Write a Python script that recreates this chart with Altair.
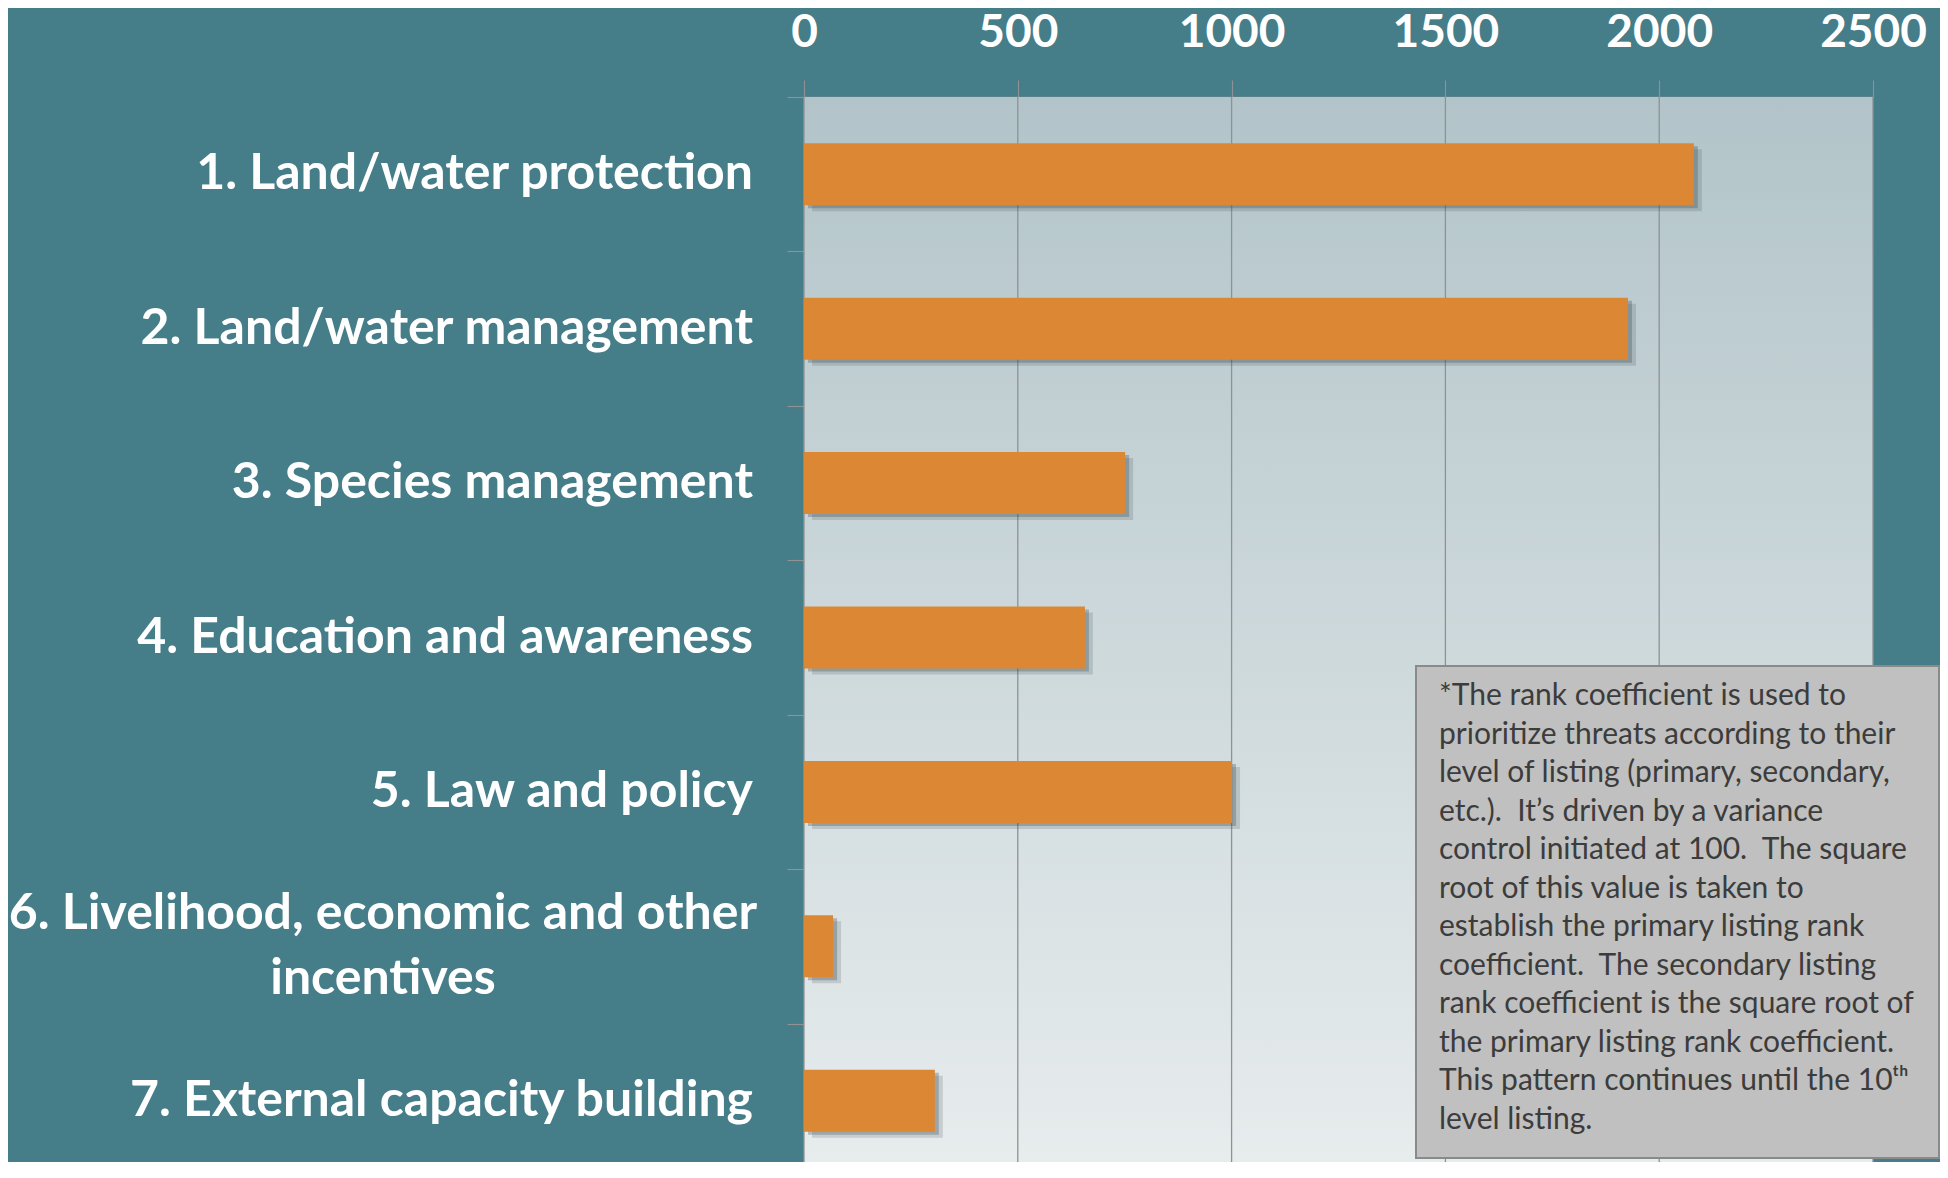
import altair as alt
import pandas as pd

categories = [
    "1. Land/water protection",
    "2. Land/water management",
    "3. Species management",
    "4. Education and awareness",
    "5. Law and policy",
    "6. Livelihood, economic and other|incentives",
    "7. External capacity building",
]
values = [2081, 1927, 751, 657, 1001, 68, 306]
x_ticks = [0, 500, 1000, 1500, 2000, 2500]
note_lines = [
    "*The rank coefficient is used to",
    "prioritize threats according to their",
    "level of listing (primary, secondary,",
    "etc.). \u00a0It\u2019s driven by a variance",
    "control initiated at 100. \u00a0The square",
    "root of this value is taken to",
    "establish the primary listing rank",
    "coefficient. \u00a0The secondary listing",
    "rank coefficient is the square root of",
    "the primary listing rank coefficient.",
    "This pattern continues until the 10\u1d57\u02b0",
    "level listing.",
]

TEAL = "#457D89"
ORANGE = "#DC8733"
GRAY = "#8E9294"
PW, PH = 1069, 1065

df = pd.DataFrame({"cat": categories, "val": values})
df["wrapped"] = df["cat"].str.contains("|", regex=False)
grid_df = pd.DataFrame({"tick": x_ticks})
one = pd.DataFrame({"k": [0]})

x_axis = alt.Axis(
    orient="top", values=x_ticks, grid=False, title=None, format="d",
    tickSize=17, tickColor=GRAY, tickWidth=1.2, domainColor=GRAY, domainWidth=1.5,
    labelFont="Lato", labelFontSize=46, labelFontWeight="bold", labelColor="white",
    labelPadding=34, labelBaseline="alphabetic", labelFlush=False, labelOverlap=False,
)
x_scale = alt.Scale(domain=[0, 2500], nice=False, zero=True)

y_axis = alt.Axis(
    orient="left", title=None, tickBand="extent", grid=False, labels=False,
    tickSize=17, tickColor=GRAY, tickWidth=1.2, domainColor=GRAY, domainWidth=1.5,
)
y_scale = alt.Scale(range=[0, 1081], paddingInner=0, paddingOuter=0)
y_enc = alt.Y("cat:N", sort=categories, scale=y_scale, axis=y_axis)

bg = alt.Chart(one).mark_rect(
    fill=alt.Gradient(
        gradient="linear", x1=0, x2=0, y1=0, y2=1,
        stops=[alt.GradientStop(color="#B2C4C9", offset=0),
               alt.GradientStop(color="#E7ECED", offset=1)],
    )
).encode(x=alt.value(0), x2=alt.value(PW), y=alt.value(0), y2=alt.value(PH))

grid = alt.Chart(grid_df).mark_rule(color=GRAY, strokeWidth=1.3).encode(
    x=alt.X("tick:Q", scale=x_scale, axis=x_axis), y=alt.value(0), y2=alt.value(PH)
)

xb = alt.X("val:Q", scale=x_scale, axis=x_axis)
shadow1 = alt.Chart(df).mark_bar(color="#3A4A4E", opacity=0.18, size=62, xOffset=8, yOffset=6).encode(x=xb, y=y_enc)
shadow2 = alt.Chart(df).mark_bar(color="#3A4A4E", opacity=0.3, size=62, xOffset=4, yOffset=3).encode(x=xb, y=y_enc)
bars = alt.Chart(df).mark_bar(color=ORANGE, size=62).encode(x=xb, y=y_enc)

lab_style = dict(font="Lato", fontSize=50, fontWeight="bold", color="white", baseline="middle")
labels_single = alt.Chart(df).transform_filter("!datum.wrapped").mark_text(
    align="right", **lab_style
).encode(x=alt.value(-51), y=y_enc, text="cat:N")
labels_wrapped = alt.Chart(df).transform_filter("datum.wrapped").mark_text(
    align="center", lineBreak="|", lineHeight=65, dy=-32, **lab_style
).encode(x=alt.value(-421), y=y_enc, text="cat:N")

box = alt.Chart(one).mark_rect(fill="#C0C0C0", stroke="#8A8A8A", strokeWidth=2).encode(
    x=alt.value(612), x2=alt.value(1135), y=alt.value(569), y2=alt.value(1061)
)
note = alt.Chart(one).mark_text(
    text=note_lines, align="left", baseline="alphabetic", font="Lato",
    fontSize=30, lineHeight=38.5, color="#3C3C3C",
).encode(x=alt.value(635), y=alt.value(608))

chart = alt.layer(bg, grid, shadow1, shadow2, bars, labels_single, labels_wrapped, box, note).properties(
    width=PW, height=PH, background=TEAL,
    padding={"left": 796, "top": 89, "right": 67, "bottom": 0},
    autosize="none",
).configure_view(stroke=None)

chart.save("out.html", embed_options={"renderer": "svg", "actions": False})
